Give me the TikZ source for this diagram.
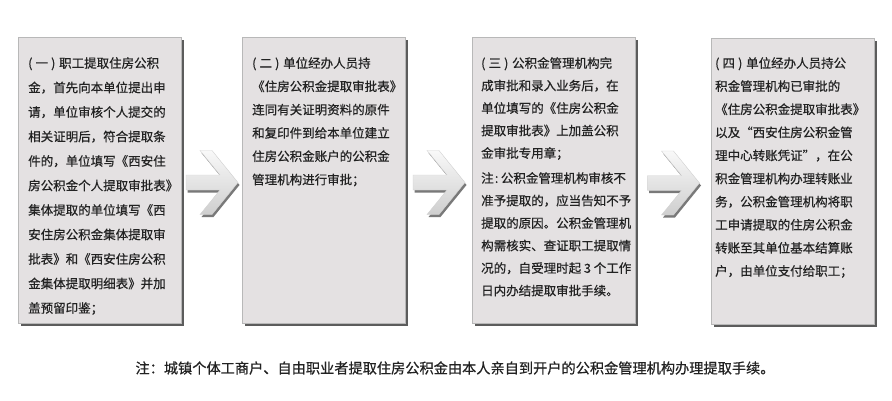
\documentclass[tikz,border=0pt]{standalone}
\usepackage{fontspec}
\setmainfont{Noto Sans CJK SC}[FakeBold=0.6]
\usepackage{xcolor}
\usetikzlibrary{calc,shadows}

\definecolor{boxgray}{HTML}{E4E1E2}
\definecolor{edgegray}{HTML}{B8B8B8}
\definecolor{inkgray}{HTML}{222222}

\tikzset{
  stepbox/.style={draw=edgegray, fill=boxgray, inner sep=0pt,
    minimum width=163pt, minimum height=286pt,
    drop shadow={shadow xshift=2.5pt, shadow yshift=-2.5pt, fill=black!75, opacity=0.85}},
  steptext/.style={anchor=north west, inner sep=0pt, align=left, text=inkgray},
  arrowfill/.style={draw=gray!35, top color=gray!5, bottom color=gray!38,
    drop shadow={shadow xshift=1.5pt, shadow yshift=-2.5pt, fill=black!70, opacity=0.75}},
}

\begin{document}
\begin{tikzpicture}[x=1pt, y=1pt]
    \useasboundingbox (0,0) rectangle (892,400);
    % the four steps
    \node[stepbox] (step1) at (100,219.5) {};
    \node[stepbox] (step2) at (324,219.5) {};
    \node[stepbox] (step3) at (554,219.5) {};
    \node[stepbox] (step4) at (793,218.5) {};
    %
    \node[steptext, font=\fontsize{12.5}{24.5}\selectfont] (text1) at (28,343) {%
      (\kern.25em 一\kern.25em )\kern.3em 职工提取住房公积\\
      金，首先向本单位提出申\\
      请，单位审核个人提交的\\
      相关证明后，符合提取条\\
      件的，单位填写《西安住\\
      房公积金个人提取审批表》\\
      集体提取的单位填写《西\\
      安住房公积金集体提取审\\
      批表》和《西安住房公积\\
      金集体提取明细表》并加\\
      盖预留印鉴；};
    \node[steptext, font=\fontsize{12.5}{23.3}\selectfont] (text2) at (252,343) {%
      (\kern.25em 二\kern.25em )\kern.3em 单位经办人员持\\
      《住房公积金提取审批表》\\
      连同有关证明资料的原件\\
      和复印件到给本单位建立\\
      住房公积金账户的公积金\\
      管理机构进行审批；};
    \node[steptext, font=\fontsize{12.5}{22.5}\selectfont] (text3) at (481,343) {%
      (\kern.25em 三\kern.25em )\kern.3em 公积金管理机构完\\
      成审批和录入业务后，在\\
      单位填写的《住房公积金\\
      提取审批表》上加盖公积\\
      金审批专用章；\\[2.5pt]
      注\kern.1em:\kern.2em 公积金管理机构审核不\\
      准予提取的，应当告知不予\\
      提取的原因。公积金管理机\\
      构需核实、查证职工提取情\\
      况的，自受理时起 3 个工作\\
      日内办结提取审批手续。};
    \node[steptext, font=\fontsize{12.5}{23.1}\selectfont] (text4) at (715,343) {%
      (\kern.25em 四\kern.25em )\kern.3em 单位经办人员持公\\
      积金管理机构已审批的\\
      《住房公积金提取审批表》\\
      以及“西安住房公积金管\\
      理中心转账凭证”，在公\\
      积金管理机构办理转账业\\
      务，公积金管理机构将职\\
      工申请提取的住房公积金\\
      转账至其单位基本结算账\\
      户，由单位支付给职工；};
    % arrows between the steps
    \foreach \a/\b in {step1/step2, step2/step3, step3/step4}
    {
      \begin{scope}[shift={($(\a.east)!0.5!(\b.west)$)}]
        \path[arrowfill] (-26,5.5) -- (8,5.5) -- (-12,30) -- (0,30) -- (26,-2)
          -- (0,-34) -- (-12,-34) -- (8,-9.5) -- (-26,-9.5) -- cycle;
      \end{scope}
    }
    % footnote
    \node[text=inkgray, font=\fontsize{14.2}{14.2}\selectfont] (note) at (455,32)
      {注：城镇个体工商户、自由职业者提取住房公积金由本人亲自到开户的公积金管理机构办理提取手续。};
\end{tikzpicture}
\end{document}
